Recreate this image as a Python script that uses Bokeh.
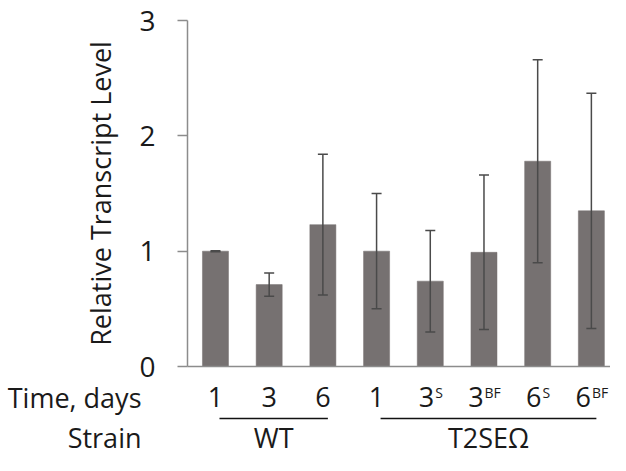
from bokeh.plotting import figure
from bokeh.layouts import column
from bokeh.models import ColumnDataSource, Whisker, TeeHead, FixedTicker, Range1d
from bokeh.core.properties import value
from bokeh.embed import file_html
from bokeh.resources import INLINE

# ---------------- data ----------------
time_base = ["1", "3", "6", "1", "3", "3", "6", "6"]
time_sup = ["", "", "", "", "S", "BF", "S", "BF"]
strain_names = ["WT", "T2SE\u03a9"]
strain_sizes = [3, 5]
means = [1.00, 0.71, 1.23, 1.00, 0.74, 0.99, 1.78, 1.35]
errors = [0.004, 0.10, 0.61, 0.50, 0.44, 0.67, 0.88, 1.02]
y_ticks = [0, 1, 2, 3]
y_title = "Relative Transcript Level"
row_titles = ["Time, days", "Strain"]

# ---------------- layout ----------------
FONT = "Open Sans"
TXT = "#1a1a1a"
AXIS = "#8c8c8c"
BAR = "#767171"
ERR = "#4a4a4a"

W = 610
left, top, frame_h, under = 187, 20, 346, 12
H_top = top + frame_h + under
H_bot = 455 - H_top
px_x = 53.7
x0 = -0.521
x1 = x0 + (W - left) / px_x

xs = list(range(len(means)))
src = ColumnDataSource(dict(
    x=xs, top=means,
    upper=[m + e for m, e in zip(means, errors)],
    lower=[m - e for m, e in zip(means, errors)],
))

p = figure(width=W, height=H_top, output_backend="svg", toolbar_location=None,
           x_range=Range1d(x0, x1), y_range=Range1d(0, 3),
           min_border_left=left, min_border_right=0,
           min_border_top=top, min_border_bottom=under)
p.frame_align = False
p.outline_line_color = None
p.grid.visible = False

p.vbar(x="x", top="top", width=0.485, bottom=0, source=src,
       fill_color=BAR, line_color=BAR, line_width=0.5)

p.add_layout(Whisker(source=src, base="x", upper="upper", lower="lower",
                     level="overlay", line_color=ERR, line_width=1.5,
                     upper_head=TeeHead(size=10, line_color=ERR, line_width=1.5),
                     lower_head=TeeHead(size=10, line_color=ERR, line_width=1.5)))

ya = p.yaxis[0]
ya.ticker = FixedTicker(ticks=y_ticks)
ya.minor_tick_line_color = None
ya.major_tick_in = 0
ya.major_tick_out = 10
ya.major_tick_line_color = AXIS
ya.major_tick_line_width = 1.5
ya.axis_line_color = AXIS
ya.axis_line_width = 1.5
ya.major_label_text_font = FONT
ya.major_label_text_font_size = "28px"
ya.major_label_text_color = TXT
ya.major_label_standoff = 22
ya.axis_label = y_title
ya.axis_label_text_font = FONT
ya.axis_label_text_font_size = "27px"
ya.axis_label_text_font_style = "normal"
ya.axis_label_text_color = TXT
ya.axis_label_standoff = 17

xa = p.xaxis[0]
xa.ticker = FixedTicker(ticks=[])
xa.minor_tick_line_color = None
xa.major_tick_in = 0
xa.major_tick_out = 0
xa.major_label_text_font_size = "0px"
xa.axis_line_color = AXIS
xa.axis_line_width = 1.5

# ---------------- category labels panel ----------------
xb0 = x0 - left / px_x
q = figure(width=W, height=H_bot, output_backend="svg", toolbar_location=None,
           x_range=Range1d(xb0, x1), y_range=Range1d(H_bot, 0),
           x_axis_location=None, y_axis_location=None,
           min_border=0, min_border_left=0, min_border_right=0,
           min_border_top=0, min_border_bottom=0)
q.frame_align = False
q.outline_line_color = None
q.grid.visible = False

# rows (pixels from top of this panel; text rows corrected for renderer offset)
base_row, sup_row, line_row, strain_row = 18.5, 14, 40, 59
digit_w = 0.572 * 27

plain_x, plain_t = [], []
dig_x, dig_t, sup_x, sup_t = [], [], [], []
for i, (b, s) in enumerate(zip(time_base, time_sup)):
    if not s:
        plain_x.append(i)
        plain_t.append(b)
    else:
        sup_w = (0.55 if s == "S" else 1.16) * 14
        j = i + (digit_w - sup_w) / 2 / px_x
        dig_x.append(j)
        dig_t.append(b)
        sup_x.append(j + 1 / px_x)
        sup_t.append(s)

common = dict(text_font=value(FONT), text_color=TXT, text_baseline="alphabetic")
q.text(x=plain_x, y=[base_row] * len(plain_x), text=plain_t,
       text_align="center", text_font_size=value("27px"), **common)
q.text(x=dig_x, y=[base_row] * len(dig_x), text=dig_t,
       text_align="right", text_font_size=value("27px"), **common)
q.text(x=sup_x, y=[sup_row] * len(sup_x), text=sup_t,
       text_align="left", text_font_size=value("14px"), **common)

title_x = xb0 + 141 / px_x
q.text(x=[title_x, title_x], y=[base_row, strain_row], text=row_titles,
       text_align="right", text_font_size=value("27px"), **common)

seg_x0, seg_x1, mid = [], [], []
start = 0
for n in strain_sizes:
    a = start + 4 / px_x
    b = start + n - 1 + 5 / px_x
    seg_x0.append(a)
    seg_x1.append(b)
    mid.append((a + b) / 2)
    start += n
q.segment(x0=seg_x0, y0=[line_row] * 2, x1=seg_x1, y1=[line_row] * 2,
          line_color="#111111", line_width=1.5)
q.text(x=mid, y=[strain_row] * 2, text=strain_names,
       text_align="center", text_font_size=value("27px"), **common)

layout = column(p, q, spacing=0)
open("out.html", "w").write(file_html(layout, INLINE))
